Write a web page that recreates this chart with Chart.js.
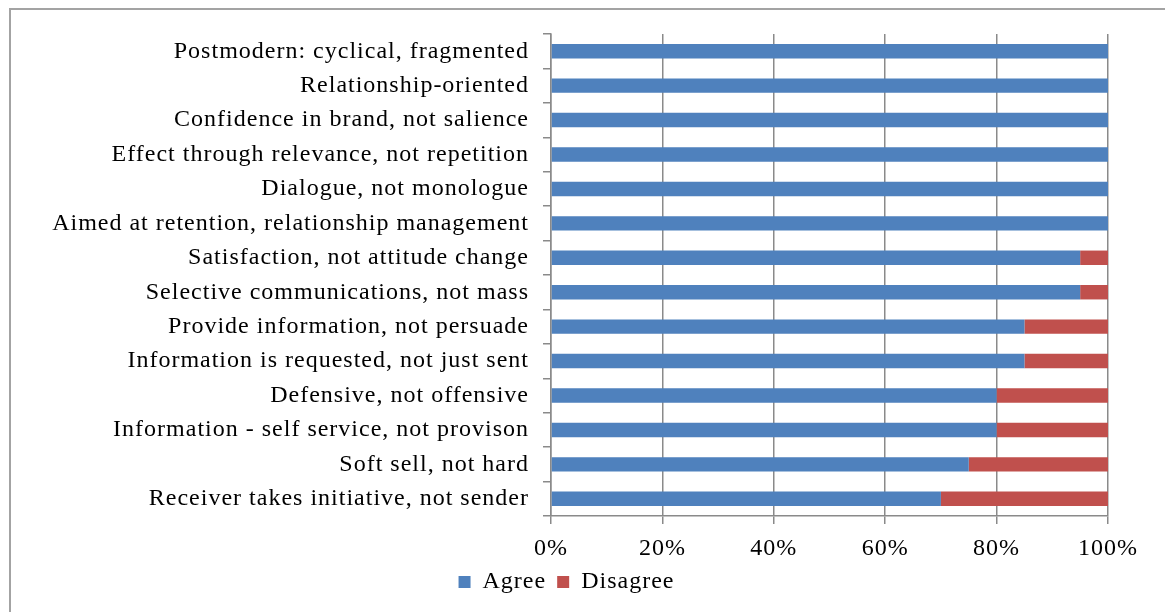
<!DOCTYPE html>
<html>
<head>
<meta charset="utf-8">
<script src="https://cdn.jsdelivr.net/npm/chart.js@4/dist/chart.umd.min.js"></script>
<style>
  html, body { margin: 0; padding: 0; overflow: hidden; background: #fff; }
  #frame { position: absolute; left: 9px; top: 8px; width: 1300px; height: 800px; border: 2px solid #a3a3a3; box-sizing: border-box; }
  #wrap { position: absolute; left: 0; top: 0; width: 1165px; height: 612px; }
</style>
</head>
<body>
<div id="frame"></div>
<div id="wrap"><canvas id="bars" width="1165" height="612"></canvas></div>
<script>
// categories, top to bottom
var labels = [
	'Postmodern: cyclical, fragmented',
	'Relationship-oriented',
	'Confidence in brand, not salience',
	'Effect through relevance, not repetition',
	'Dialogue, not monologue',
	'Aimed at retention, relationship management',
	'Satisfaction, not attitude change',
	'Selective communications, not mass',
	'Provide information, not persuade',
	'Information is requested, not just sent',
	'Defensive, not offensive',
	'Information - self service, not provison',
	'Soft sell, not hard',
	'Receiver takes initiative, not sender'
];
var agree    = [100, 100, 100, 100, 100, 100, 95, 95, 85, 85, 80, 80, 75, 70];
var disagree = [0, 0, 0, 0, 0, 0, 5, 5, 15, 15, 20, 20, 25, 30];
var xTicks = [0, 20, 40, 60, 80, 100];

var font = { family: '"Liberation Serif", "Times New Roman", serif', size: 24 };
var tightFont = { family: font.family, size: 24, lineHeight: 1 };
var gridColor = '#8a8a8a';

// the original text is set a bit loose, so spread the letters
var spacing = {
	id: 'spacing',
	beforeInit: function (chart) { chart.ctx.letterSpacing = '1px'; },
	beforeDraw: function (chart) { chart.ctx.letterSpacing = '1px'; }
};

var ctx = document.getElementById('bars');
var chart = new Chart(ctx, {
	type: 'bar',
	data: {
		labels: labels,
		datasets: [{
			label: 'Agree',
			data: agree,
			backgroundColor: '#4F81BD',
			barPercentage: 0.42,
			categoryPercentage: 1
		}, {
			label: 'Disagree',
			data: disagree,
			backgroundColor: '#C0504D',
			barPercentage: 0.42,
			categoryPercentage: 1
		}]
	},
	plugins: [spacing],
	options: {
		indexAxis: 'y',
		responsive: false,
		animation: false,
		layout: { padding: { left: 12, right: 57, top: 34, bottom: 8 } },
		scales: {
			x: {
				stacked: true,
				min: 0,
				max: 100,
				afterBuildTicks: function (scale) {
					scale.ticks = xTicks.map(function (v) { return { value: v }; });
				},
				afterFit: function (scale) { scale.height = 43; },
				ticks: {
					font: tightFont,
					color: '#000',
					padding: 13,
					maxRotation: 0,
					callback: function (v) { return v + '%'; }
				},
				grid: { color: gridColor, lineWidth: 1.5, tickLength: 8 },
				border: { color: gridColor, width: 1.5 }
			},
			y: {
				stacked: true,
				afterFit: function (scale) { scale.width = 539; },
				ticks: { font: font, color: '#000', padding: 14, autoSkip: false },
				grid: { drawOnChartArea: false, color: gridColor, lineWidth: 1.5, tickLength: 8 },
				border: { color: gridColor, width: 1.5 }
			}
		},
		plugins: {
			legend: {
				position: 'bottom',
				labels: { font: tightFont, color: '#000', boxWidth: 12, boxHeight: 12, padding: 11 }
			},
			tooltip: { enabled: false }
		}
	}
});
</script>
</body>
</html>
